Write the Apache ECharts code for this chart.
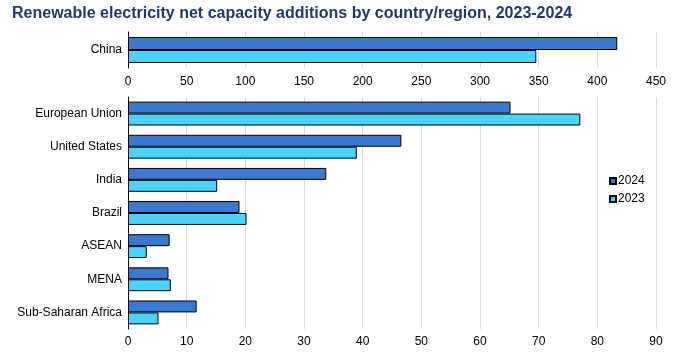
<!DOCTYPE html>
<html><head><meta charset="utf-8">
<script src="https://cdn.jsdelivr.net/npm/echarts@6/dist/echarts.min.js"></script>
<style>html,body{margin:0;padding:0;background:#fff}#c{width:678px;height:360px}</style>
</head><body><div id="c"></div>
<script>
const topCategories = ['China'];
const top2024 = [417];
const top2023 = [348];
const categories = ['European Union','United States','India','Brazil','ASEAN','MENA','Sub-Saharan Africa'];
const values2024 = [65.2, 46.6, 33.8, 19.0, 7.1, 6.9, 11.7];
const values2023 = [77.1, 39.0, 15.2, 20.2, 3.2, 7.3, 5.2];
const topTicks = {min:0, max:450, interval:50};
const bottomTicks = {min:0, max:90, interval:10};

const C24 = '#3b78d2', C23 = '#4ad3fc';
const font = 'Liberation Sans, Arial, sans-serif';
const chart = echarts.init(document.getElementById('c'));
const xAx = (gi, t, m) => ({
  type:'value', gridIndex:gi, min:t.min, max:t.max, interval:t.interval,
  axisLine:{show:false}, axisTick:{show:false},
  axisLabel:{color:'#000', fontFamily:font, fontSize:12, margin:m},
  splitLine:{show:true, lineStyle:{color:'#d9d9d9', width:1}}
});
const yAx = (gi, cats) => ({
  type:'category', gridIndex:gi, data:cats, inverse:true,
  axisLine:{show:true, lineStyle:{color:'#000', width:1}}, axisTick:{show:false},
  axisLabel:{color:'#000', fontFamily:font, fontSize:12, margin:6}
});
const bar = (name, xi, data, color) => ({
  name, type:'bar', xAxisIndex:xi, yAxisIndex:xi, data,
  barGap:'0%', barCategoryGap:'28%',
  itemStyle:{color, borderColor:'#000', borderWidth:1},
  emphasis:{disabled:true}
});
chart.setOption({
  animation:false,
  title:{text:'Renewable electricity net capacity additions by country/region, 2023-2024',
    left:7, top:1, textStyle:{color:'#1f3a68', fontFamily:font, fontSize:16, fontWeight:'bold'}},
  legend:{data:['2024','2023'], orient:'vertical', left:604, top:170, itemWidth:6, itemHeight:6, itemGap:6,
    icon:'rect', textStyle:{color:'#000', fontFamily:font, fontSize:12, padding:[0,0,0,-3]}},
  grid:[
    {left:128, right:22, top:32, height:36},
    {left:128, right:22, top:97, height:232}
  ],
  xAxis:[xAx(0, topTicks, 8), xAx(1, bottomTicks, 7)],
  yAxis:[yAx(0, topCategories), yAx(1, categories)],
  series:[
    bar('2024', 0, top2024, C24), bar('2023', 0, top2023, C23),
    bar('2024', 1, values2024, C24), bar('2023', 1, values2023, C23)
  ]
});
</script></body></html>
